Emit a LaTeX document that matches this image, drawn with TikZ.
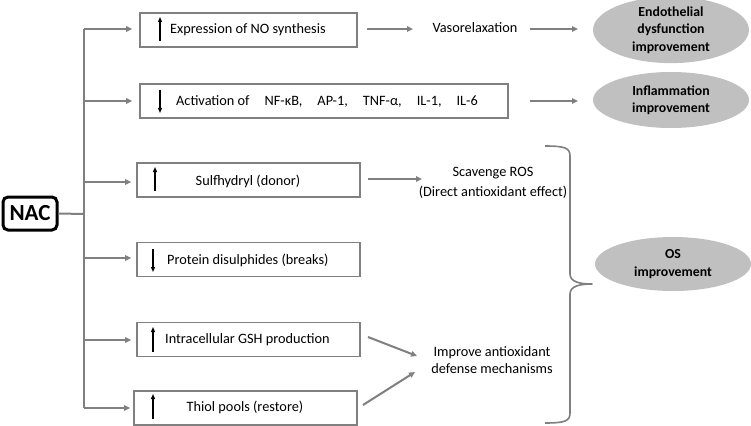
\documentclass[tikz,border=0pt]{standalone}
\usepackage{fontspec}
\setmainfont{Carlito}
\usetikzlibrary{arrows.meta,shapes.geometric}
\definecolor{lgray}{RGB}{128,128,128}
\definecolor{efill}{RGB}{192,192,192}
\begin{document}
\begin{tikzpicture}[x=1pt,y=-1pt,
  gline/.style={draw=lgray,line width=2pt},
  garrow/.style={gline,-{Triangle[length=6pt,width=5.5pt]}},
  box/.style={draw=lgray,line width=1.7pt,rectangle,minimum height=34pt,inner sep=0pt},
  inarrow/.style={draw=black,line width=1.2pt,-{Triangle[length=5pt,width=4pt]}},
  txt/.style={font=\fontsize{14.3}{17}\selectfont,inner sep=0pt},
  oval/.style={ellipse,fill=efill,draw=none,minimum width=156pt,minimum height=56pt,inner sep=0pt,
    align=center,font=\bfseries\fontsize{13.8}{17.5}\selectfont},
  nacbox/.style={draw=black,line width=3pt,rounded corners=5pt,minimum width=54pt,minimum height=33pt,
    inner sep=0pt,font=\bfseries\fontsize{23}{24}\selectfont}]
\useasboundingbox (0,0) rectangle (751,425);
\fill[white] (0,0) rectangle (751,425);

% NAC and trunk
\node[nacbox] (nac) at (30,213.5) {NAC};
\coordinate (tmid) at (84,214);
\coordinate (ttop) at (84,29);
\coordinate (tbot) at (84,408);
\draw[gline] (nac.east) -- (tmid);
\draw[gline] (ttop) -- (tbot);

% boxes
\node[box,minimum width=217pt] (b1) at (248.5,30) {};
\node[box,minimum width=368pt] (b2) at (324,101) {};
\node[box,minimum width=223pt] (b3) at (248.5,180) {};
\node[box,minimum width=223pt] (b4) at (248.5,259.5) {};
\node[box,minimum width=223pt] (b5) at (248.5,339.5) {};
\node[box,minimum width=223pt] (b6) at (245.5,408) {};

% branch points
\coordinate (p1) at (84,29);
\coordinate (p2) at (84,101);
\coordinate (p3) at (84,182);
\coordinate (p4) at (84,258);
\coordinate (p5) at (84,340);
\coordinate (p6) at (84,408);
\draw[garrow,shorten >=7pt] (p1) -- (b1.west |- p1);
\draw[garrow,shorten >=7pt] (p2) -- (b2.west |- p2);
\draw[garrow,shorten >=5pt] (p3) -- (b3.west |- p3);
\draw[garrow,shorten >=5pt] (p4) -- (b4.west |- p4);
\draw[garrow,shorten >=5pt] (p5) -- (b5.west |- p5);
\draw[garrow,shorten >=3pt] (p6) -- (b6.west |- p6);

% box texts
\node[txt,anchor=west] (t1) at (170,30) {Expression of NO synthesis};
\node[txt,anchor=west] (t2) at (176,101) {Activation of\hspace{1.05em}NF-κB,\hspace{1.05em}AP-1,\hspace{1.05em}TNF-α,\hspace{1.05em}IL-1,\hspace{1.05em}IL-6};
\node[txt] (t3) at (248,181) {Sulfhydryl (donor)};
\node[txt,anchor=west] (t4) at (167,260) {Protein disulphides (breaks)};
\node[txt,anchor=west] (t5) at (165,340) {Intracellular GSH production};
\node[txt] (t6) at (245,407) {Thiol pools (restore)};

% in-box arrows
\draw[inarrow] (160,41) -- (160,17);
\draw[inarrow] (160,90) -- (160,113);
\draw[inarrow] (155,191) -- (155,167);
\draw[inarrow] (153,249) -- (153,272);
\draw[inarrow] (153,352) -- (153,327);
\draw[inarrow] (153,419) -- (153,394);

% middle column
\node[txt] (vaso) at (475,28) {Vasorelaxation};
\node[txt,align=center,font=\fontsize{14.3}{20}\selectfont] (scav) at (493,183) {Scavenge ROS\\(Direct antioxidant effect)};
\node[txt,align=center,font=\fontsize{14.3}{17}\selectfont] (impr) at (492,360) {Improve antioxidant\\defense mechanisms};

% ovals
\node[oval] (e1) at (671,30) {Endothelial\\dysfunction\\improvement};
\node[oval] (e2) at (671,100) {Inflammation\\improvement};
\node[oval,minimum height=54pt] (e3) at (673,264) {OS\\improvement};

% connectors
\coordinate (a1s) at (367,29);
\coordinate (a1e) at (413,29);
\draw[garrow] (a1s) -- (a1e);
\coordinate (a2s) at (530,29);
\coordinate (a2e) at (578,29);
\draw[garrow] (a2s) -- (a2e);
\coordinate (a3s) at (530,101);
\coordinate (a3e) at (578,101);
\draw[garrow] (a3s) -- (a3e);
\coordinate (a4s) at (368,179);
\coordinate (a4e) at (422,179);
\draw[garrow] (a4s) -- (a4e);
\coordinate (a5s) at (368,337);
\coordinate (a5e) at (417,356);
\draw[garrow] (a5s) -- (a5e);
\coordinate (a6s) at (363,405);
\coordinate (a6e) at (415,372);
\draw[garrow] (a6s) -- (a6e);

% brace
\draw[draw=lgray,line width=1.6pt,line join=round]
  (545,146) .. controls (565,146) and (570,148) .. (570,156)
  -- (570,274) .. controls (570,282) and (580,284) .. (592,284)
  .. controls (580,284) and (570,286) .. (570,294)
  -- (570,413) .. controls (570,421) and (565,423) .. (545,423);
\end{tikzpicture}
\end{document}
